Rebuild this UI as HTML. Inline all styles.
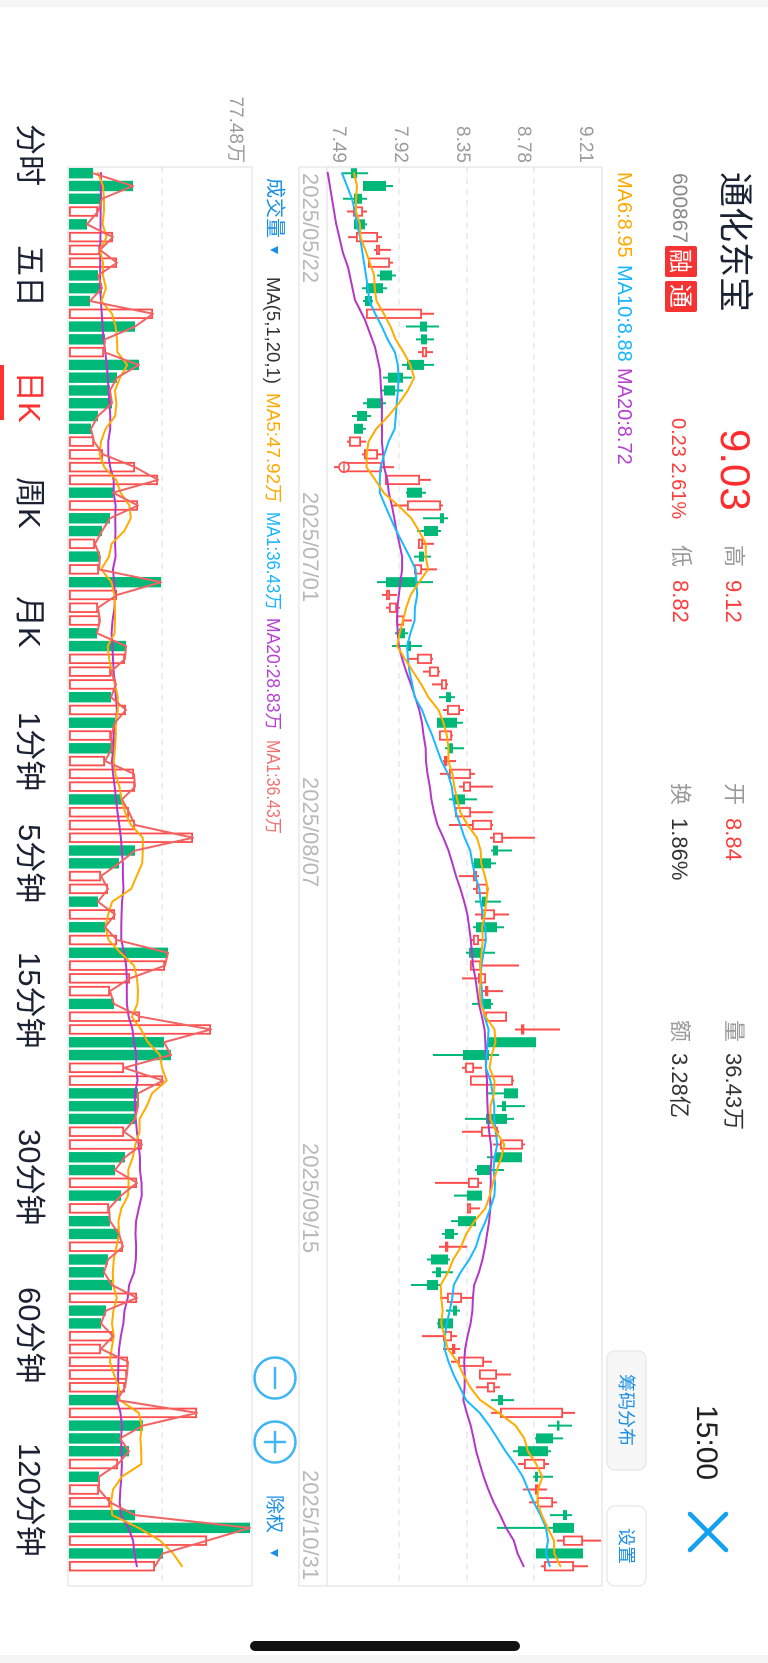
<!DOCTYPE html>
<html>
<head>
<meta charset="utf-8">
<style>
html,body{margin:0;padding:0;background:#fff;}
svg{display:block;}
text{font-family:"Liberation Sans","Noto Sans CJK SC",sans-serif;}
</style>
</head>
<body>
<svg id="s" width="768" height="1663" viewBox="0 0 768 1663" xmlns="http://www.w3.org/2000/svg">
<rect x="0" y="0" width="768" height="1663" fill="#ffffff"/>
<rect x="0" y="0" width="768" height="7" fill="#f5f5f5"/>
<rect x="0" y="1655" width="768" height="8" fill="#f5f5f5"/>
<rect x="250" y="1641" width="270" height="10" rx="5" fill="#111111"/>

<!-- Header -->
<text x="723" y="172" transform="rotate(90 723 172)" font-size="35" fill="#1b2233">通化东宝</text>
<text x="673" y="173" transform="rotate(90 673 173)" font-size="21" fill="#8a8a8a">600867</text>
<rect x="665" y="246" width="32" height="31" rx="2" fill="#f53333"/>
<rect x="665" y="281" width="32" height="31" rx="2" fill="#f53333"/>
<text x="672" y="249" transform="rotate(90 672 249)" font-size="24" fill="#ffffff">融</text>
<text x="672" y="284" transform="rotate(90 672 284)" font-size="24" fill="#ffffff">通</text>
<text x="721" y="429" transform="rotate(90 721 429)" font-size="42" fill="#ff2d2d">9.03</text>
<text x="672" y="418" transform="rotate(90 672 418)" font-size="20" fill="#ff3b3b">0.23 2.61%</text>

<text x="726.5" y="545" transform="rotate(90 726.5 545)" font-size="22" fill="#999999">高</text>
<text x="726" y="580" transform="rotate(90 726 580)" font-size="22" fill="#ff3b3b">9.12</text>
<text x="673.5" y="545" transform="rotate(90 673.5 545)" font-size="22" fill="#999999">低</text>
<text x="673" y="580" transform="rotate(90 673 580)" font-size="22" fill="#ff3b3b">8.82</text>

<text x="726.5" y="783" transform="rotate(90 726.5 783)" font-size="22" fill="#999999">开</text>
<text x="726" y="818" transform="rotate(90 726 818)" font-size="22" fill="#ff3b3b">8.84</text>
<text x="672.5" y="783" transform="rotate(90 672.5 783)" font-size="22" fill="#999999">换</text>
<text x="672" y="818" transform="rotate(90 672 818)" font-size="22" fill="#333333">1.86%</text>

<text x="726.5" y="1020" transform="rotate(90 726.5 1020)" font-size="22" fill="#999999">量</text>
<text x="726" y="1053" transform="rotate(90 726 1053)" font-size="22" fill="#333333">36.43万</text>
<text x="672.5" y="1020" transform="rotate(90 672.5 1020)" font-size="22" fill="#999999">额</text>
<text x="672" y="1053" transform="rotate(90 672 1053)" font-size="22" fill="#333333">3.28亿</text>

<text x="697" y="1405" transform="rotate(90 697 1405)" font-size="30" fill="#222222">15:00</text>
<line x1="690" y1="1514" x2="726" y2="1550" stroke="#12a0f0" stroke-width="4.5" stroke-linecap="round"/>
<line x1="690" y1="1550" x2="726" y2="1514" stroke="#12a0f0" stroke-width="4.5" stroke-linecap="round"/>

<rect x="607" y="1351" width="39" height="119" rx="8" fill="#f7f7f7" stroke="#e6e6e6" stroke-width="1.2"/>
<text x="620" y="1374" transform="rotate(90 620 1374)" font-size="18" fill="#1a8fe6">筹码分布</text>
<rect x="607" y="1506" width="39" height="80" rx="8" fill="#ffffff" stroke="#e6e6e6" stroke-width="1.2"/>
<text x="620" y="1528" transform="rotate(90 620 1528)" font-size="18" fill="#1a8fe6">设置</text>

<!-- MA legend -->
<text x="618" y="172" transform="rotate(90 618 172)" font-size="20" fill="#ffa800">MA6:8.95</text>
<text x="618" y="265" transform="rotate(90 618 265)" font-size="20" fill="#14b4ff">MA10:8.88</text>
<text x="618" y="368" transform="rotate(90 618 368)" font-size="20" fill="#b640d2">MA20:8.72</text>

<!-- Axis labels -->
<text x="580" y="163" transform="rotate(90 580 163)" font-size="19" fill="#9a9a9a" text-anchor="end">9.21</text>
<text x="518" y="163" transform="rotate(90 518 163)" font-size="19" fill="#9a9a9a" text-anchor="end">8.78</text>
<text x="457" y="163" transform="rotate(90 457 163)" font-size="19" fill="#9a9a9a" text-anchor="end">8.35</text>
<text x="395" y="163" transform="rotate(90 395 163)" font-size="19" fill="#9a9a9a" text-anchor="end">7.92</text>
<text x="333" y="163" transform="rotate(90 333 163)" font-size="19" fill="#9a9a9a" text-anchor="end">7.49</text>
<text x="230" y="163" transform="rotate(90 230 163)" font-size="19" fill="#9a9a9a" text-anchor="end">77.48万</text>

<!-- Price chart frame -->
<rect x="299" y="167" width="303" height="1419" fill="none" stroke="#e3e3e3" stroke-width="1.2"/>
<line x1="327" y1="167" x2="327" y2="1586" stroke="#e3e3e3" stroke-width="1.2"/>
<line x1="399" y1="167" x2="399" y2="1586" stroke="#dddddd" stroke-width="1" stroke-dasharray="6 5"/>
<line x1="467" y1="167" x2="467" y2="1586" stroke="#dddddd" stroke-width="1" stroke-dasharray="6 5"/>
<line x1="534" y1="167" x2="534" y2="1586" stroke="#dddddd" stroke-width="1" stroke-dasharray="6 5"/>

<!-- Dates -->
<text x="303" y="173" transform="rotate(90 303 173)" font-size="22" fill="#b8b8b8">2025/05/22</text>
<text x="303" y="492" transform="rotate(90 303 492)" font-size="22" fill="#b8b8b8">2025/07/01</text>
<text x="303" y="777" transform="rotate(90 303 777)" font-size="22" fill="#b8b8b8">2025/08/07</text>
<text x="303" y="1143" transform="rotate(90 303 1143)" font-size="22" fill="#b8b8b8">2025/09/15</text>
<text x="303" y="1470" transform="rotate(90 303 1470)" font-size="22" fill="#b8b8b8">2025/10/31</text>

<!-- Volume frame -->
<rect x="68" y="167" width="184" height="1419" fill="none" stroke="#e3e3e3" stroke-width="1.2"/>
<line x1="162" y1="167" x2="162" y2="1586" stroke="#dddddd" stroke-width="1" stroke-dasharray="6 5"/>

<!-- Volume header -->
<text x="268.5" y="178" transform="rotate(90 268.5 178)" font-size="20" fill="#1a8fe6">成交量</text>
<polygon points="270,250 278,246 278,254" fill="#1a8fe6"/>
<text x="267" y="277" transform="rotate(90 267 277)" font-size="18.5" fill="#333333">MA(5,1,20,1)</text>
<text x="267" y="393" transform="rotate(90 267 393)" font-size="18" fill="#ffa800" textLength="110" lengthAdjust="spacingAndGlyphs">MA5:47.92万</text>
<text x="267" y="512" transform="rotate(90 267 512)" font-size="18" fill="#14b4ff" textLength="98" lengthAdjust="spacingAndGlyphs">MA1:36.43万</text>
<text x="267" y="618" transform="rotate(90 267 618)" font-size="18" fill="#b640d2" textLength="112" lengthAdjust="spacingAndGlyphs">MA20:28.83万</text>
<text x="267" y="740" transform="rotate(90 267 740)" font-size="18" fill="#f07070" textLength="94" lengthAdjust="spacingAndGlyphs">MA1:36.43万</text>

<circle cx="275" cy="1378" r="20.5" fill="#ffffff" stroke="#40b6f5" stroke-width="2.5"/>
<line x1="275" y1="1368" x2="275" y2="1388" stroke="#40b6f5" stroke-width="2.5" stroke-linecap="round"/>
<circle cx="275" cy="1442" r="20.5" fill="#ffffff" stroke="#40b6f5" stroke-width="2.5"/>
<line x1="275" y1="1432" x2="275" y2="1452" stroke="#40b6f5" stroke-width="2.5" stroke-linecap="round"/>
<line x1="265" y1="1442" x2="285" y2="1442" stroke="#40b6f5" stroke-width="2.5" stroke-linecap="round"/>
<text x="268.5" y="1495" transform="rotate(90 268.5 1495)" font-size="19" fill="#1a8fe6">除权</text>
<polygon points="270,1553 278,1549 278,1557" fill="#1a8fe6"/>

<!-- Bottom nav -->
<rect x="0" y="365" width="4" height="55" fill="#ff3333"/>
<text x="19" y="124" transform="rotate(90 19 124)" font-size="31" fill="#1b2233">分时</text>
<text x="19" y="245" transform="rotate(90 19 245)" font-size="31" fill="#1b2233">五日</text>
<text x="19" y="371" transform="rotate(90 19 371)" font-size="31" fill="#ff3030">日K</text>
<text x="19" y="477" transform="rotate(90 19 477)" font-size="31" fill="#1b2233">周K</text>
<text x="19" y="596" transform="rotate(90 19 596)" font-size="31" fill="#1b2233">月K</text>
<text x="19" y="712" transform="rotate(90 19 712)" font-size="31" fill="#1b2233">1分钟</text>
<text x="19" y="824" transform="rotate(90 19 824)" font-size="31" fill="#1b2233">5分钟</text>
<text x="19" y="952" transform="rotate(90 19 952)" font-size="31" fill="#1b2233">15分钟</text>
<text x="19" y="1129" transform="rotate(90 19 1129)" font-size="31" fill="#1b2233">30分钟</text>
<text x="19" y="1287" transform="rotate(90 19 1287)" font-size="31" fill="#1b2233">60分钟</text>
<text x="19" y="1443" transform="rotate(90 19 1443)" font-size="31" fill="#1b2233">120分钟</text>

<g id="chart"></g>
</svg>
<script>
(function(){
var C=[
['g',351,357,343,368],['g',363,386,363,393],['g',354,362,343,367],['r',353,363,347,367],['g',354,365,354,367],
['r',356,378,348,382],['r',376,380,374,391],['r',368,390,368,393],['g',380,392,377,396],['g',366,383,362,387],
['g',365,372,363,373],['r',366,422,366,434],['g',420,427,406,439],['g',421,427,416,434],['r',422,427,418,433],
['g',407,424,402,434],['g',388,403,383,412],['g',384,395,381,403],['g',367,383,363,386],['g',357,367,352,371],
['g',354,363,354,366],['r',349,361,347,366],['r',364,378,362,382],['r',343,382,334,394],['r',385,420,385,431],
['g',407,422,406,426],['r',407,441,393,443],['g',440,444,423,448],['g',424,438,417,441],['r',418,423,418,434],
['g',419,424,414,431],['r',414,422,414,437],['g',386,417,377,433],['r',386,390,382,397],['r',389,397,386,400],
['r',396,404,396,412],['g',399,405,395,408],['g',407,411,392,422],['r',417,432,408,433],['r',429,439,423,440],
['r',441,447,432,448],['g',446,451,439,455],['r',447,460,443,464],['g',437,457,437,463],['r',439,452,439,453],
['g',449,453,445,464],['r',444,446,443,456],['r',449,471,440,475],['r',463,471,459,493],['g',454,465,449,477],
['r',455,471,455,493],['r',472,492,449,493],['r',493,503,490,535],['g',493,498,491,512],['g',474,491,472,496],
['r',473,477,459,479],['r',476,488,473,489],['g',482,486,475,501],['r',481,495,475,509],['g',476,497,473,504],
['r',473,479,470,486],['g',469,481,466,495],['r',470,481,470,519],['r',478,486,462,486],['r',485,487,482,503],
['g',483,491,472,493],['r',485,507,485,507],['r',521,523,515,560],['g',487,536,487,536],['g',463,489,433,499],
['r',465,474,462,482],['r',470,513,470,514],['g',504,518,488,518],['g',502,506,497,525],['g',486,507,465,514],
['r',481,498,462,499],['r',500,523,493,525],['g',495,522,487,522],['g',477,491,475,504],['r',468,479,435,482],
['g',467,482,454,482],['r',467,471,467,480],['g',458,476,451,476],['g',445,454,442,458],['r',445,447,439,467],
['g',431,448,427,450],['g',436,441,432,453],['g',427,438,411,441],['r',447,462,440,472],['g',453,457,446,460],
['g',438,453,437,453],['r',443,452,422,457],['r',452,455,443,460],['r',458,484,451,492],['r',479,497,479,511],
['r',487,495,476,500],['g',498,503,491,514],['r',500,563,491,575],['g',557,559,548,572],['g',536,553,535,563],
['g',518,548,513,551],['r',524,545,518,549],['g',535,538,533,553],['r',535,537,523,547],['r',537,553,529,557],
['g',563,567,550,572],['g',553,574,497,574],['r',563,583,557,601],['g',536,583,536,583],['r',544,574,541,588]
];
var V=[93,133,102,98,87,113,100,117,98,102,
90,153,135,105,104,139,117,110,112,98,
91,94,103,135,158,113,138,110,102,95,
100,99,161,117,98,100,97,126,125,111,
116,111,126,115,111,112,105,134,135,122,
129,135,193,135,119,101,108,98,115,105,
117,168,165,130,110,114,140,211,164,171,
124,163,138,138,135,124,142,125,115,137,
121,109,110,119,123,108,104,112,137,106,
101,113,101,128,127,125,117,197,143,120,
129,118,99,99,110,135,250,207,163,155];
var G='#00b877',R='#ff4d4d',O='#ffab00',B='#1ab9ff',PU='#b437c8',S='#f06464';
var P=12.78,T0=168;
function cy(i){return T0+5.2+P*i;}
function f(v){return (+v).toFixed(2);}
function pl(pts,col,w){
  var a=[];for(var k=0;k<pts.length;k++){a.push(f(pts[k][0])+','+f(pts[k][1]));}
  return '<polyline fill="none" stroke="'+col+'" stroke-width="'+(w||2)+'" stroke-linejoin="round" stroke-linecap="round" points="'+a.join(' ')+'"/>';
}
function ma(arr,n,prefix,off){
  var pts=prefix.slice();
  for(var i=n-1;i<arr.length;i++){var s=0;for(var j=i-n+1;j<=i;j++)s+=arr[j];pts.push([s/n+(off||0),cy(i)]);}
  return pts;
}
var s='';
for(var i=0;i<V.length;i++){
  var y=T0+P*i,t=V[i],g=C[i][0]=='g';
  if(g) s+='<rect x="69" y="'+f(y)+'" width="'+f(t-69)+'" height="10.4" fill="'+G+'"/>';
  else s+='<rect x="69.9" y="'+f(y+0.9)+'" width="'+f(Math.max(t-70.8,1))+'" height="8.6" fill="#ffffff" stroke="'+R+'" stroke-width="1.8"/>';
}
var vv=[];for(i=0;i<V.length;i++)vv.push(V[i]-69);
s+=pl(ma(vv,20,[[101,173],[100,287],[103,333],[107,367]],69),PU,2);
s+=pl(ma(vv,5,[[98,173],[103,186],[104,199],[104,211]],69),O,2);
var sp=[];for(i=0;i<V.length;i++)sp.push([V[i],cy(i)]);
s+=pl(sp,S,2);
var cl=[];
for(i=0;i<C.length;i++){
  var c=C[i],y2=cy(i),col=c[0]=='g'?G:R;
  cl.push(c[0]=='g'?c[1]:c[2]);
  s+='<line x1="'+c[3]+'" y1="'+f(y2)+'" x2="'+c[4]+'" y2="'+f(y2)+'" stroke="'+col+'" stroke-width="2"/>';
  if(c[0]=='g'){
    var w=Math.max(c[2]-c[1],2.5);
    s+='<rect x="'+c[1]+'" y="'+f(y2-5)+'" width="'+f(w)+'" height="10" fill="'+G+'"/>';
  } else {
    var w2=Math.max(c[2]-c[1]-1.8,1.5);
    s+='<rect x="'+f(c[1]+0.9)+'" y="'+f(y2-4.2)+'" width="'+f(w2)+'" height="8.4" fill="#ffffff" stroke="'+R+'" stroke-width="1.8"/>';
  }
}
s+='<circle cx="344" cy="'+f(cy(23))+'" r="5" fill="#ffffff" stroke="'+R+'" stroke-width="1.6"/>';
s+='<line x1="344" y1="'+f(cy(23)-5)+'" x2="344" y2="'+f(cy(23)+5)+'" stroke="'+R+'" stroke-width="1.4"/>';
s+=pl(ma(cl,20,[[327.7,172.7],[336,223],[343,253],[348,267],[355,300],[365,320],[375,347],[380,370],[382,407]]),PU,2);
var p10=[[342,cy(0)],[347,cy(1)],[352,cy(2)],[355,cy(3)],[357,cy(4)],[360,cy(5)],[362,cy(6)],[364,cy(7)],[366,cy(8)]];
s+=pl(ma(cl,10,p10),B,2);
var p6=[[354,cy(0)],[357,cy(1)],[356,cy(2)],[356,cy(3)],[360,cy(4)]];
s+=pl(ma(cl,6,p6),O,2);
document.getElementById('chart').innerHTML=s;
})();
</script>
</body>
</html>
